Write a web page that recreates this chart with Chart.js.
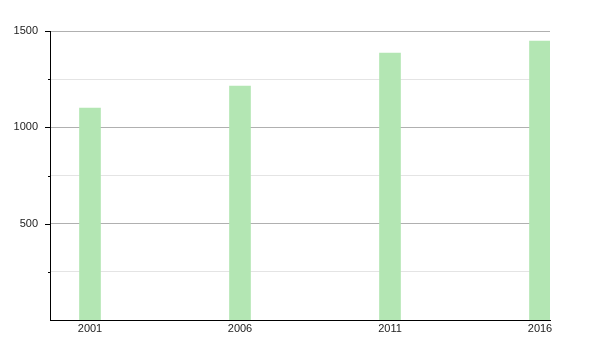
<!DOCTYPE html>
<html>
<head>
<meta charset="utf-8">
<script src="https://cdn.jsdelivr.net/npm/chart.js@4"></script>
<style>
  html, body { margin: 0; padding: 0; background: #fff; }
  #wrap { width: 600px; height: 350px; }
</style>
</head>
<body>
<div id="wrap"><canvas id="barChart" width="600" height="350"></canvas></div>
<script>
const years = [2001, 2006, 2011, 2016];
const population = [1100, 1214, 1385, 1448];
const yTicks = [250, 500, 750, 1000, 1250, 1500];

// small tick marks on the left axis, long ones on labelled values
const tickMarks = {
  id: 'tickMarks',
  afterDraw(chart) {
    const ctx = chart.ctx;
    const y = chart.scales.y;
    ctx.save();
    ctx.strokeStyle = '#000';
    ctx.lineWidth = 1;
    yTicks.forEach(v => {
      const py = Math.round(y.getPixelForValue(v)) + 0.5;
      const len = v % 500 === 0 ? 5 : 2;
      ctx.beginPath();
      ctx.moveTo(y.right - len, py);
      ctx.lineTo(y.right, py);
      ctx.stroke();
    });
    ctx.restore();
  }
};

new Chart(document.getElementById('barChart').getContext('2d'), {
  type: 'bar',
  data: {
    datasets: [{
      data: years.map((yr, i) => ({ x: yr, y: population[i] })),
      backgroundColor: '#b3e6b3',
      borderWidth: 0,
      barThickness: 21
    }]
  },
  options: {
    responsive: false,
    animation: false,
    layout: { padding: { top: 31, right: 50, left: 0, bottom: 0 } },
    plugins: { legend: { display: false }, tooltip: { enabled: false } },
    scales: {
      x: {
        type: 'linear',
        offset: false,
        min: 2001 - 4 / 3,
        max: 2016 + 1 / 3,
        afterBuildTicks: s => { s.ticks = years.map(v => ({ value: v })); },
        afterFit: s => { s.height = 30; },
        grid: { display: false, drawTicks: false, offset: false },
        border: { color: '#000', width: 1 },
        ticks: {
          padding: 2,
          color: '#222',
          font: { family: 'Liberation Sans, Arial', size: 11 },
          callback: v => String(v)
        }
      },
      y: {
        min: 0,
        max: 1500,
        afterBuildTicks: s => { s.ticks = yTicks.map(v => ({ value: v })); },
        afterFit: s => { s.width = 50; },
        grid: {
          drawTicks: false,
          color: ctx => ctx.tick && ctx.tick.value % 500 === 0 ? '#b0b0b0' : '#e4e4e4'
        },
        border: { color: '#000', width: 1 },
        ticks: {
          padding: 12,
          color: '#222',
          font: { family: 'Liberation Sans, Arial', size: 11 },
          callback: v => (v % 500 === 0 ? String(v) : '')
        }
      }
    }
  },
  plugins: [tickMarks]
});
</script>
</body>
</html>
